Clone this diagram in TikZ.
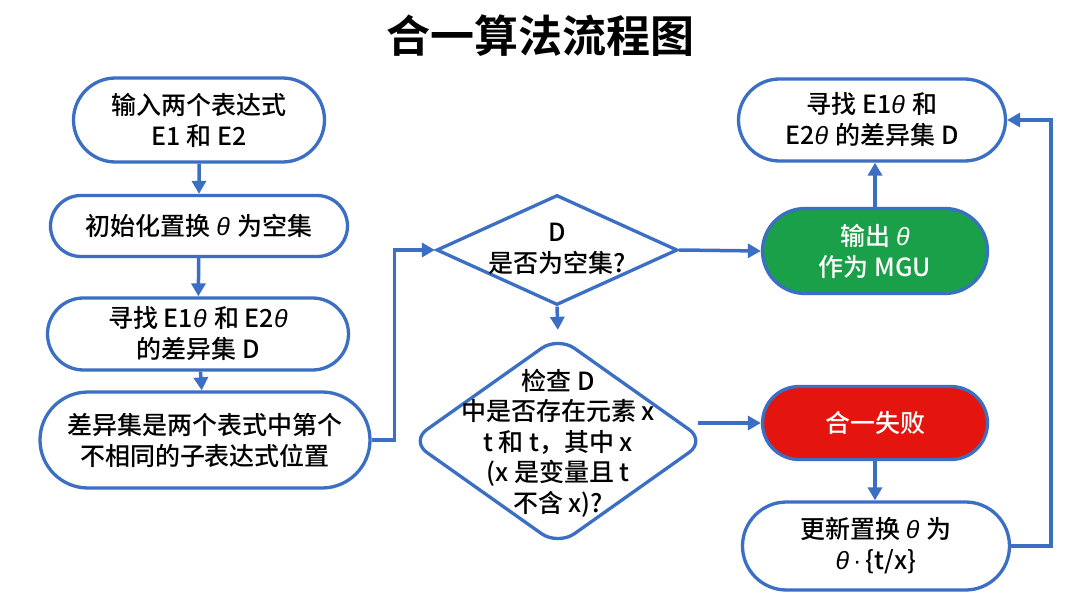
\documentclass[tikz,border=0pt]{standalone}
\usepackage{fontspec}
\setmainfont{Noto Sans CJK SC}[UprightFont={* Medium}, BoldFont={* Bold}]
\newfontfamily\thfont{Liberation Sans}
\usetikzlibrary{shapes.misc,shapes.geometric,arrows.meta,calc}
\newcommand\thet{{\thfont\itshape θ}}
\definecolor{bl}{RGB}{59,111,196}
\definecolor{gn}{RGB}{26,160,72}
\definecolor{rd}{RGB}{228,20,14}
\begin{document}
\begin{tikzpicture}[x=1pt,y=-1pt,
  stad/.style={rounded rectangle, draw=bl, line width=3.3pt, fill=white, inner sep=0pt,
    align=center, font=\fontsize{25}{31}\selectfont},
  dia/.style={diamond, draw=bl, line width=3.3pt, fill=white, inner sep=0pt},
  txt/.style={align=center, font=\fontsize{25}{30.5}\selectfont},
  arr/.style={draw=bl, line width=3.5pt, -{Triangle[length=13pt,width=14pt]}}]
\useasboundingbox (0,0) rectangle (1080,607);
\fill[white] (0,0) rectangle (1080,607);
\node[font=\fontsize{44}{50}\selectfont\bfseries] (title) at (540,36) {合一算法流程图};

\node[stad, minimum width=251pt, minimum height=84pt] (n1) at (199,120) {输入两个表达式\\E1 和 E2};
\node[stad, minimum width=297pt, minimum height=61pt] (n2) at (199,226) {初始化置换 \thet\hspace{0.3em}为空集};
\node[stad, minimum width=301pt, minimum height=72pt] (n3) at (198,334) {寻找 E1\thet\hspace{0.3em}和 E2\thet\\的差异集 D};
\node[stad, minimum width=330pt, minimum height=96pt] (n4) at (205,440) {差异集是两个表式中第个\\不相同的子表达式位置};

\node[dia, minimum width=241pt, minimum height=110pt] (d1) at (557,250) {};
\node[txt] (d1t) at (557,249) {D\\是否为空集?};
\node[dia, rounded corners=20pt, minimum width=296pt, minimum height=210pt] (d2) at (558,441) {};
\node[txt] (d2t) at (558,443) {检查 D\\中是否存在元素 x\\t 和 t，其中 x\\(x 是变量且 t\\不含 x)?};

\node[stad, minimum width=267pt, minimum height=82pt] (tr) at (872,120) {寻找 E1\thet\hspace{0.3em}和\\E2\thet\hspace{0.3em}的差异集 D};
\node[stad, fill=gn, text=white, minimum width=225pt, minimum height=85pt] (ok) at (875,251) {输出 \thet\\作为 MGU};
\node[stad, fill=rd, text=white, minimum width=225pt, minimum height=73pt] (fail) at (875,423) {合一失败};
\node[stad, minimum width=267pt, minimum height=88pt] (upd) at (876,546) {更新置换 \thet\hspace{0.3em}为\\\thet{\thfont\,·\,}\{t/x\}};

\draw[arr] (n1) -- (n2);
\draw[arr] (n2) -- (n3);
\draw[arr] (n3) -- (n4);
\draw[arr] (n4.east) -- ++(23,0) |- (d1.west);
\draw[arr, shorten >=4.5pt] (d1.south) -- (d2.north);
\draw[arr] (d1.east) -- (ok.west);
\coordinate (d2r) at ($(fail.west -| d2.east)+(-10,0)$);
\draw[arr] (d2r) -- (fail.west);
\draw[arr] (ok.north) -- (ok.north |- tr.south);
\draw[arr] (fail.south) -- (fail.south |- upd.north);
\coordinate (lp) at ($(upd.east)+(40,0)$);
\draw[arr] (upd.east) -- (lp) |- (tr.east);
\end{tikzpicture}
\end{document}
